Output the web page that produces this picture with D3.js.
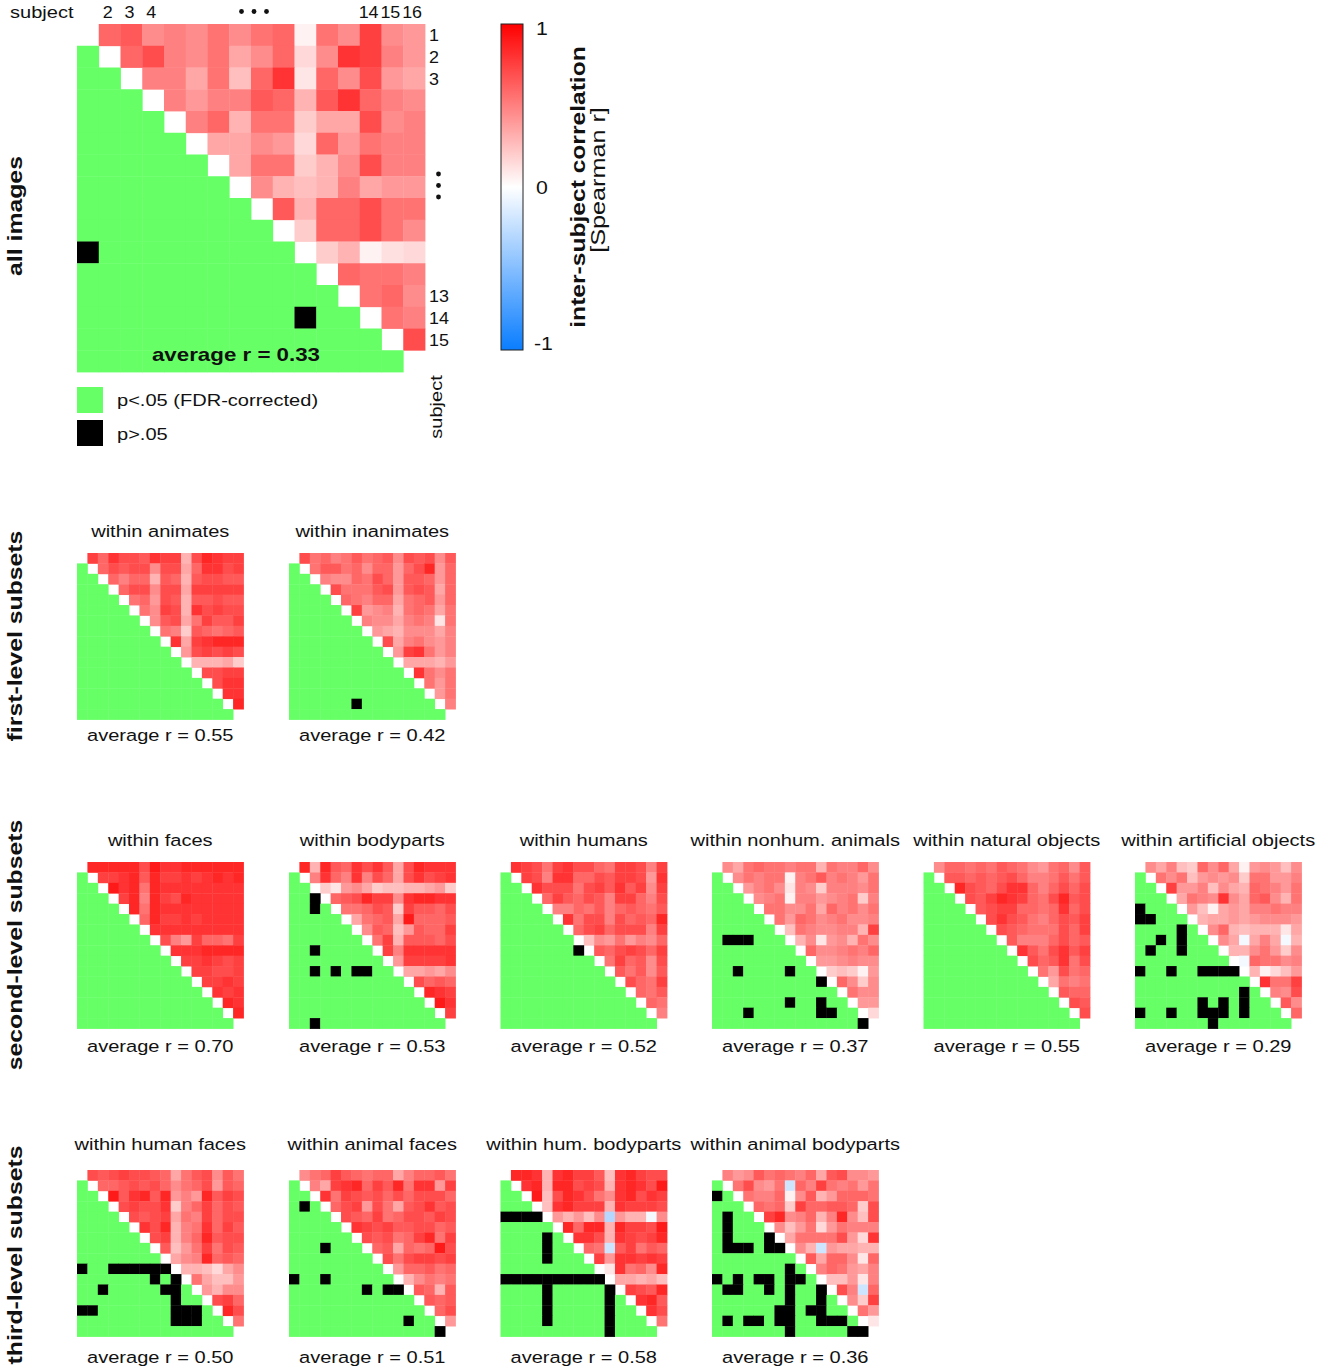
<!DOCTYPE html>
<html>
<head>
<meta charset="utf-8">
<script src="https://cdn.jsdelivr.net/npm/d3@7"></script>
<style>
  html, body { margin: 0; padding: 0; background: #fff; }
  svg { display: block; font-family: "Liberation Sans", Arial, Helvetica, sans-serif; }
</style>
</head>
<body>
<svg id="chart" width="1323" height="1371"></svg>
<script>
// ---------------- DATA ----------------
const subjects = d3.range(1, 17);
const colTickLabels = ["2", "3", "4", "14", "15", "16"];
const rowTickLabels = ["1", "2", "3", "13", "14", "15"];
const colorTickLabels = ["1", "0", "-1"];
const levelLabels = ["all images", "first-level subsets", "second-level subsets", "third-level subsets"];
const legendLabels = ["p<.05 (FDR-corrected)", "p>.05"];

// upper triangle rows: row i holds r for columns i+1..16
const corrAll = [
  [0.6,0.65,0.45,0.5,0.45,0.55,0.45,0.55,0.6,0.05,0.55,0.45,0.75,0.45,0.4],
  [0.6,0.7,0.5,0.45,0.55,0.35,0.45,0.6,0.15,0.45,0.8,0.75,0.5,0.4],
  [0.5,0.5,0.35,0.55,0.25,0.6,0.8,0.1,0.6,0.45,0.7,0.4,0.35],
  [0.5,0.4,0.5,0.5,0.65,0.6,0.3,0.65,0.8,0.6,0.5,0.45],
  [0.5,0.6,0.3,0.55,0.55,0.2,0.35,0.35,0.7,0.45,0.5],
  [0.35,0.35,0.45,0.4,0.15,0.6,0.4,0.55,0.5,0.5],
  [0.35,0.55,0.55,0.2,0.3,0.45,0.7,0.5,0.5],
  [0.45,0.3,0.25,0.3,0.5,0.35,0.4,0.4],
  [0.65,0.3,0.6,0.6,0.7,0.55,0.55],
  [0.2,0.6,0.6,0.7,0.55,0.45],
  [0.2,0.3,0.05,0.12,0.15],
  [0.6,0.55,0.55,0.5],
  [0.55,0.6,0.45],
  [0.55,0.5],
  [0.7]
];
const nsAll = [[11,1],[14,11]];

const corrAnimates = [
  [0.75,0.6,0.8,0.7,0.7,0.65,0.8,0.75,0.75,0.3,0.7,0.85,0.8,0.75,0.75],
  [0.6,0.7,0.65,0.7,0.7,0.45,0.7,0.7,0.35,0.6,0.8,0.8,0.7,0.75],
  [0.6,0.5,0.6,0.6,0.3,0.65,0.6,0.3,0.65,0.7,0.7,0.65,0.65],
  [0.6,0.7,0.7,0.45,0.7,0.7,0.35,0.75,0.75,0.75,0.75,0.75],
  [0.55,0.6,0.4,0.7,0.65,0.3,0.65,0.65,0.7,0.65,0.65],
  [0.55,0.45,0.75,0.7,0.3,0.8,0.7,0.75,0.7,0.7],
  [0.45,0.65,0.7,0.35,0.55,0.75,0.65,0.65,0.75],
  [0.55,0.5,0.2,0.65,0.6,0.55,0.6,0.65],
  [0.8,0.35,0.75,0.8,0.85,0.85,0.85],
  [0.4,0.7,0.75,0.7,0.75,0.7],
  [0.3,0.3,0.3,0.35,0.2],
  [0.7,0.7,0.75,0.75],
  [0.7,0.8,0.8],
  [0.8,0.8],
  [0.85]
];
const nsAnimates = [];

const corrInanimates = [
  [0.7,0.55,0.6,0.5,0.55,0.65,0.55,0.6,0.65,0.45,0.7,0.65,0.7,0.45,0.65],
  [0.55,0.65,0.65,0.55,0.6,0.45,0.6,0.6,0.4,0.6,0.7,0.85,0.4,0.6],
  [0.5,0.45,0.45,0.6,0.55,0.7,0.6,0.4,0.65,0.65,0.6,0.4,0.6],
  [0.7,0.55,0.55,0.55,0.65,0.7,0.4,0.65,0.7,0.65,0.35,0.6],
  [0.6,0.55,0.5,0.6,0.6,0.35,0.55,0.6,0.65,0.4,0.6],
  [0.75,0.4,0.45,0.5,0.3,0.55,0.6,0.55,0.35,0.55],
  [0.5,0.45,0.45,0.35,0.5,0.55,0.5,0.1,0.55],
  [0.4,0.35,0.3,0.45,0.45,0.45,0.35,0.5],
  [0.7,0.35,0.5,0.55,0.45,0.4,0.5],
  [0.4,0.75,0.8,0.55,0.4,0.5],
  [0.35,0.35,0.35,0.3,0.4],
  [0.8,0.55,0.45,0.55],
  [0.55,0.4,0.55],
  [0.4,0.55],
  [0.5]
];
const nsInanimates = [[15,7]];

const corrFaces = [
  [0.85,0.85,0.85,0.85,0.85,0.7,0.9,0.8,0.8,0.85,0.85,0.85,0.85,0.85,0.85],
  [0.75,0.75,0.8,0.85,0.65,0.85,0.75,0.75,0.8,0.75,0.8,0.85,0.8,0.85],
  [0.9,0.8,0.85,0.55,0.85,0.8,0.8,0.8,0.8,0.8,0.8,0.8,0.8],
  [0.75,0.85,0.5,0.85,0.75,0.7,0.85,0.8,0.8,0.8,0.8,0.8],
  [0.85,0.55,0.85,0.8,0.8,0.8,0.8,0.8,0.8,0.8,0.8],
  [0.6,0.85,0.75,0.75,0.8,0.75,0.8,0.8,0.8,0.8],
  [0.8,0.8,0.8,0.8,0.8,0.8,0.8,0.8,0.8],
  [0.7,0.5,0.4,0.75,0.6,0.6,0.55,0.75],
  [0.8,0.8,0.8,0.85,0.85,0.85,0.85],
  [0.75,0.75,0.8,0.75,0.7,0.75],
  [0.75,0.75,0.7,0.7,0.75],
  [0.75,0.75,0.8,0.75],
  [0.8,0.75,0.8],
  [0.85,0.8],
  [0.85]
];
const nsFaces = [];

const corrBodyparts = [
  [0.85,0.3,0.85,0.65,0.6,0.8,0.7,0.8,0.65,0.35,0.7,0.85,0.8,0.8,0.8],
  [0.5,0.8,0.6,0.5,0.8,0.5,0.7,0.6,0.35,0.7,0.8,0.7,0.75,0.8],
  [0.2,0.1,0.4,0.45,0.35,0.2,0.25,0.25,0.3,0.3,0.35,0.4,0.2],
  [0.6,0.65,0.7,0.85,0.75,0.75,0.45,0.8,0.85,0.85,0.8,0.8],
  [0.55,0.55,0.6,0.7,0.65,0.2,0.75,0.65,0.65,0.6,0.7],
  [0.35,0.55,0.6,0.65,0.35,0.9,0.6,0.6,0.6,0.65],
  [0.45,0.65,0.6,0.25,0.4,0.65,0.6,0.6,0.75],
  [0.55,0.75,0.3,0.65,0.65,0.65,0.6,0.7],
  [0.75,0.5,0.8,0.8,0.8,0.8,0.8],
  [0.4,0.75,0.75,0.75,0.75,0.8],
  [0.35,0.35,0.4,0.35,0.45],
  [0.7,0.6,0.65,0.6],
  [0.85,0.8,0.75],
  [0.9,0.8],
  [0.75]
];
const nsBodyparts = [[4,3],[5,3],[9,3],[11,3],[11,5],[11,7],[11,8],[16,3]];

const corrHumans = [
  [0.8,0.75,0.7,0.55,0.75,0.8,0.7,0.7,0.6,0.55,0.75,0.75,0.7,0.5,0.75],
  [0.75,0.7,0.5,0.8,0.8,0.6,0.6,0.7,0.65,0.75,0.75,0.7,0.4,0.8],
  [0.8,0.7,0.7,0.7,0.55,0.7,0.75,0.65,0.8,0.65,0.75,0.45,0.75],
  [0.6,0.75,0.65,0.6,0.7,0.65,0.5,0.75,0.75,0.6,0.5,0.7],
  [0.5,0.5,0.6,0.55,0.65,0.5,0.6,0.65,0.6,0.55,0.65],
  [0.8,0.55,0.7,0.7,0.5,0.7,0.6,0.65,0.6,0.85],
  [0.6,0.7,0.75,0.6,0.7,0.7,0.7,0.5,0.75],
  [0.25,0.45,0.4,0.55,0.4,0.5,0.45,0.6],
  [0.65,0.6,0.7,0.75,0.7,0.6,0.75],
  [0.55,0.75,0.6,0.65,0.45,0.7],
  [0.65,0.55,0.65,0.45,0.65],
  [0.7,0.6,0.55,0.75],
  [0.6,0.55,0.65],
  [0.6,0.55],
  [0.5]
];
const nsHumans = [[9,8]];

const corrNonhum = [
  [0.45,0.35,0.55,0.6,0.55,0.55,0.5,0.55,0.55,0.3,0.55,0.5,0.5,0.6,0.45],
  [0.45,0.55,0.5,0.55,0.55,0.05,0.5,0.55,0.65,0.5,0.55,0.5,0.4,0.55],
  [0.4,0.5,0.55,0.45,0.1,0.5,0.45,0.2,0.5,0.5,0.5,0.45,0.55],
  [0.45,0.5,0.55,0.05,0.5,0.5,0.4,0.45,0.5,0.55,0.2,0.5],
  [0.55,0.55,0.45,0.45,0.55,0.35,0.6,0.5,0.55,0.45,0.55],
  [0.55,0.4,0.6,0.55,0.45,0.5,0.55,0.45,0.45,0.5],
  [0.25,0.55,0.5,0.45,0.45,0.5,0.5,0.3,0.75],
  [0.3,0.45,0.1,0.4,0.45,0.3,0.55,0.45],
  [0.6,0.45,0.45,0.5,0.55,0.5,0.6],
  [0.4,0.4,0.45,0.5,0.45,0.45],
  [0.2,0.25,0.2,0.05,0.4],
  [0.6,0.45,0.2,0.45],
  [0.55,0.45,0.45],
  [0.4,0.4],
  [0.15]
];
const nsNonhum = [[8,2],[8,3],[8,4],[11,3],[11,8],[12,11],[14,8],[14,11],[15,4],[15,11],[15,12],[16,15]];

const corrNatural = [
  [0.45,0.6,0.6,0.55,0.6,0.55,0.65,0.6,0.55,0.45,0.4,0.55,0.6,0.45,0.65],
  [0.65,0.65,0.6,0.65,0.6,0.65,0.7,0.6,0.5,0.5,0.55,0.65,0.55,0.65],
  [0.85,0.7,0.65,0.6,0.7,0.8,0.8,0.6,0.5,0.6,0.7,0.6,0.7],
  [0.7,0.65,0.75,0.85,0.8,0.75,0.6,0.55,0.7,0.85,0.65,0.7],
  [0.65,0.7,0.75,0.75,0.6,0.6,0.55,0.6,0.8,0.6,0.7],
  [0.7,0.8,0.7,0.65,0.55,0.5,0.6,0.7,0.65,0.75],
  [0.7,0.65,0.6,0.55,0.55,0.55,0.7,0.6,0.75],
  [0.65,0.5,0.5,0.5,0.6,0.7,0.6,0.65],
  [0.8,0.65,0.55,0.7,0.8,0.65,0.75],
  [0.7,0.6,0.65,0.8,0.55,0.7],
  [0.55,0.4,0.7,0.55,0.6],
  [0.35,0.55,0.5,0.55],
  [0.65,0.6,0.6],
  [0.7,0.65],
  [0.7]
];
const nsNatural = [];

const corrArtificial = [
  [0.45,0.35,0.5,0.25,0.2,0.6,0.45,0.6,0.35,0.05,0.4,0.45,0.4,0.25,0.45],
  [0.55,0.45,0.55,0.25,0.4,0.45,0.4,0.45,0.2,0.55,0.55,0.4,0.4,0.5],
  [0.75,0.4,0.4,0.5,0.25,0.45,0.35,0.3,0.6,0.55,0.5,0.4,0.55],
  [0.35,0.55,0.5,0.45,0.8,0.45,0.35,0.6,0.65,0.45,0.3,0.55],
  [0.4,0.25,0.05,0.35,0.4,0.35,0.5,0.5,0.55,0.5,0.5],
  [0.3,0.35,0.35,0.4,0.35,0.4,0.45,0.45,0.45,0.4],
  [0.45,0.6,0.3,0.25,0.3,0.3,0.3,0.1,0.35],
  [0.45,0.35,-0.05,0.35,0.5,0.35,-0.05,0.3],
  [0.3,0.3,0.45,0.55,0.4,0.2,0.45],
  [-0.05,0.6,0.55,0.55,0.45,0.5],
  [0.3,0.05,0.15,0.25,0.4],
  [0.8,0.55,0.55,0.75],
  [0.5,0.45,0.7],
  [0.65,0.45],
  [0.6]
];
const nsArtificial = [[5,1],[6,1],[6,2],[7,5],[8,3],[8,5],[9,2],[9,5],[11,1],[11,4],[11,7],[11,8],[11,9],[11,10],[13,11],[14,7],[14,9],[14,11],[15,1],[15,4],[15,7],[15,8],[15,9],[15,11],[16,8]];

const corrHumFaces = [
  [0.7,0.65,0.7,0.75,0.7,0.7,0.65,0.6,0.35,0.55,0.65,0.7,0.45,0.65,0.55],
  [0.6,0.6,0.65,0.7,0.65,0.7,0.6,0.45,0.55,0.6,0.7,0.4,0.65,0.6],
  [0.9,0.65,0.8,0.85,0.65,0.85,0.4,0.5,0.4,0.85,0.65,0.75,0.7],
  [0.7,0.75,0.7,0.7,0.8,0.2,0.5,0.6,0.75,0.6,0.7,0.65],
  [0.7,0.65,0.7,0.75,0.35,0.55,0.5,0.75,0.6,0.7,0.7],
  [0.8,0.7,0.85,0.3,0.5,0.55,0.8,0.6,0.75,0.65],
  [0.7,0.75,0.3,0.5,0.6,0.85,0.65,0.7,0.7],
  [0.65,0.25,0.4,0.55,0.75,0.55,0.7,0.65],
  [0.35,0.45,0.5,0.85,0.6,0.65,0.6],
  [0.3,0.3,0.25,0.15,0.35,0.45],
  [0.55,0.35,0.25,0.25,0.4],
  [0.4,0.3,0.45,0.45],
  [0.7,0.75,0.6],
  [0.85,0.7],
  [0.55]
];
const nsHumFaces = [[10,1],[10,4],[10,5],[10,6],[10,7],[10,8],[10,9],[11,8],[11,10],[12,3],[12,9],[12,10],[13,10],[14,1],[14,2],[14,10],[14,11],[14,12],[15,10],[15,11],[15,12]];

const corrAnimalFaces = [
  [0.45,0.55,0.6,0.75,0.65,0.6,0.55,0.6,0.6,0.35,0.5,0.6,0.6,0.65,0.55],
  [0.5,0.35,0.75,0.8,0.85,0.6,0.75,0.65,0.85,0.55,0.8,0.8,0.4,0.75],
  [0.8,0.55,0.75,0.7,0.65,0.7,0.6,0.7,0.6,0.7,0.7,0.7,0.6],
  [0.6,0.7,0.75,0.4,0.7,0.55,0.35,0.65,0.7,0.8,0.65,0.7],
  [0.7,0.65,0.6,0.75,0.55,0.6,0.7,0.7,0.65,0.75,0.7],
  [0.8,0.75,0.7,0.75,0.65,0.65,0.7,0.7,0.6,0.65],
  [0.7,0.65,0.7,0.55,0.6,0.75,0.85,0.55,0.75],
  [0.6,0.65,0.35,0.6,0.55,0.6,0.9,0.7],
  [0.7,0.55,0.7,0.75,0.75,0.7,0.75],
  [0.4,0.6,0.6,0.65,0.55,0.6],
  [0.3,0.45,0.55,0.5,0.55],
  [0.65,0.6,0.3,0.65],
  [0.65,0.6,0.65],
  [0.6,0.7],
  [0.4]
];
const nsAnimalFaces = [[4,2],[8,4],[11,1],[11,4],[12,8],[12,10],[12,11],[15,12],[16,15]];

const corrHumBody = [
  [0.85,0.85,0.8,0.3,0.8,0.85,0.75,0.75,0.65,0.25,0.8,0.85,0.75,0.7,0.7],
  [0.8,0.85,0.3,0.85,0.85,0.7,0.75,0.7,0.3,0.8,0.85,0.8,0.7,0.9],
  [0.9,0.25,0.7,0.85,0.8,0.7,0.55,0.45,0.8,0.85,0.7,0.8,0.75],
  [0.25,0.8,0.85,0.75,0.75,0.75,0.3,0.8,0.75,0.75,0.75,0.7],
  [0.4,0.3,0.4,0.25,0.45,-0.3,0.4,0.3,0.3,-0.05,0.45],
  [0.85,0.6,0.85,0.85,0.3,0.85,0.75,0.75,0.7,0.9],
  [0.8,0.8,0.7,0.3,0.8,0.75,0.7,0.75,0.85],
  [0.6,0.55,-0.2,0.65,0.75,0.55,0.65,0.6],
  [0.75,0.4,0.8,0.8,0.75,0.8,0.75],
  [0.1,0.8,0.55,0.6,0.45,0.85],
  [0.35,0.35,0.3,0.35,0.25],
  [0.75,0.7,0.65,0.85],
  [0.8,0.85,0.65],
  [0.8,0.7],
  [0.55]
];
const nsHumBody = [[5,1],[5,2],[5,3],[5,4],[7,5],[8,5],[9,5],[11,1],[11,2],[11,3],[11,4],[11,5],[11,6],[11,7],[11,8],[11,9],[11,10],[12,5],[13,5],[14,5],[15,5],[12,11],[13,11],[14,11],[15,11],[16,11]];

const corrAnimalBody = [
  [0.5,0.4,0.45,0.65,0.55,0.6,0.55,0.5,0.6,0.35,0.65,0.7,0.45,0.45,0.4],
  [0.55,0.7,0.45,0.4,0.55,-0.2,0.6,0.5,0.75,0.55,0.5,0.55,0.4,0.55],
  [0.55,0.5,0.5,0.6,0.05,0.45,0.65,0.3,0.4,0.6,0.6,0.6,0.55],
  [0.6,0.55,0.6,0.2,0.75,0.6,0.6,0.65,0.65,0.6,0.2,0.7],
  [0.75,0.85,0.45,0.5,0.6,0.3,0.5,0.85,0.45,0.25,0.7],
  [0.45,0.25,0.4,0.55,0.15,0.4,0.55,0.5,0.5,0.5],
  [0.35,0.55,0.55,0.55,0.55,0.7,0.4,0.15,0.8],
  [0.45,0.3,-0.2,0.4,0.35,0.35,0.3,0.3],
  [0.65,0.35,0.6,0.6,0.45,0.1,0.6],
  [0.5,0.6,0.55,0.4,0.35,0.5],
  [0.25,0.25,0.4,0.1,0.5],
  [0.7,0.5,-0.2,0.6],
  [0.45,0.2,0.75],
  [0.55,0.4],
  [0.1]
];
const nsAnimalBody = [[3,1],[5,2],[6,2],[7,2],[8,2],[8,3],[8,4],[7,6],[8,6],[8,7],[10,8],[11,8],[12,8],[13,8],[14,8],[15,8],[16,8],[11,9],[11,1],[11,3],[11,5],[11,6],[12,2],[12,3],[12,6],[14,7],[15,7],[12,11],[13,11],[14,10],[14,11],[15,11],[15,12],[15,13],[15,2],[15,4],[15,5],[16,14],[16,15]];

const panelTitles = [
  ["within animates", "within inanimates"],
  ["within faces", "within bodyparts", "within humans", "within nonhum. animals", "within natural objects", "within artificial objects"],
  ["within human faces", "within animal faces", "within hum. bodyparts", "within animal bodyparts"]
];
const panelAverages = [
  ["0.55", "0.42"],
  ["0.70", "0.53", "0.52", "0.37", "0.55", "0.29"],
  ["0.50", "0.51", "0.58", "0.36"]
];
const panelCorr = [
  [corrAnimates, corrInanimates],
  [corrFaces, corrBodyparts, corrHumans, corrNonhum, corrNatural, corrArtificial],
  [corrHumFaces, corrAnimalFaces, corrHumBody, corrAnimalBody]
];
const panelNs = [
  [nsAnimates, nsInanimates],
  [nsFaces, nsBodyparts, nsHumans, nsNonhum, nsNatural, nsArtificial],
  [nsHumFaces, nsAnimalFaces, nsHumBody, nsAnimalBody]
];
const averageAll = "0.33";

// ---------------- DRAWING ----------------
const svg = d3.select("#chart");
const GREEN = "#66ff66";
const color = d3.scaleLinear().domain([-1, 0, 1]).range(["#0a7dff", "#ffffff", "#ff0000"]);

function label(parent, x, y, str, o = {}) {
  const g = parent.append("g")
    .attr("transform", `translate(${x},${y}) rotate(${o.rot || 0}) scale(${o.sx || 1},1)`);
  g.append("text")
    .attr("text-anchor", o.anchor || "start")
    .attr("font-size", o.size || 17)
    .attr("font-weight", o.weight || "normal")
    .attr("fill", "#111")
    .text(str);
  return g;
}

function drawMatrix(x0, y0, size, corr, ns) {
  const x = d3.scaleBand().domain(subjects).range([x0, x0 + size]);
  const y = d3.scaleBand().domain(subjects).range([y0, y0 + size]);
  const nsSet = new Set(ns.map(d => d[0] + "_" + d[1]));
  const cells = [];
  subjects.forEach(i => subjects.forEach(j => {
    if (i < j) cells.push({ i, j, fill: color(corr[i - 1][j - i - 1]) });
    else if (i > j) cells.push({ i, j, fill: nsSet.has(i + "_" + j) ? "#000" : GREEN });
  }));
  const g = svg.append("g");
  g.selectAll("rect").data(cells).join("rect")
    .attr("x", d => x(d.j))
    .attr("y", d => y(d.i))
    .attr("width", x.bandwidth() + 0.4)
    .attr("height", y.bandwidth() + 0.4)
    .attr("fill", d => d.fill);
  return { x, y };
}

// ---- main matrix ----
const main = drawMatrix(77, 24, 348, corrAll, nsAll);
label(svg, 10, 18, "subject", { size: 17, sx: 1.18 });
colTickLabels.forEach(t => {
  label(svg, main.x(+t) + main.x.bandwidth() / 2 - 2, 18, t, { size: 16, sx: 1.12, anchor: "middle" });
});
[241.5, 254, 266.5].forEach(cx => svg.append("circle").attr("cx", cx).attr("cy", 11.5).attr("r", 2.4).attr("fill", "#111"));
rowTickLabels.forEach(t => {
  label(svg, 429, main.y(+t) + main.y.bandwidth() / 2 + 6.5, t, { size: 16, sx: 1.12 });
});
[174, 185.5, 197].forEach(cy => svg.append("circle").attr("cx", 438.5).attr("cy", cy).attr("r", 2.4).attr("fill", "#111"));
label(svg, 442, 407, "subject", { size: 17, sx: 1.18, rot: -90, anchor: "middle" });
label(svg, 236, 361, "average r = " + averageAll, { size: 18, weight: "bold", sx: 1.24, anchor: "middle" });

// legend
svg.append("rect").attr("x", 77).attr("y", 387).attr("width", 26).attr("height", 26).attr("fill", GREEN);
svg.append("rect").attr("x", 77).attr("y", 420).attr("width", 26).attr("height", 26).attr("fill", "#000");
label(svg, 117, 406, legendLabels[0], { size: 17, sx: 1.18 });
label(svg, 117, 440, legendLabels[1], { size: 17, sx: 1.18 });

// colorbar
const defs = svg.append("defs");
const grad = defs.append("linearGradient").attr("id", "cbar").attr("x1", 0).attr("y1", 0).attr("x2", 0).attr("y2", 1);
d3.range(0, 1.0001, 0.05).forEach(t => {
  grad.append("stop").attr("offset", t).attr("stop-color", color(1 - 2 * t));
});
const cbY = d3.scaleLinear().domain([1, -1]).range([24, 350]);
svg.append("rect").attr("x", 501).attr("y", cbY(1)).attr("width", 22).attr("height", cbY(-1) - cbY(1))
  .attr("fill", "url(#cbar)").attr("stroke", "#222").attr("stroke-width", 1);
colorTickLabels.forEach(t => {
  const v = +t;
  const off = v === 1 ? 11 : (v === 0 ? 7 : 0);
  label(svg, v < 0 ? 534 : 536, cbY(v) + off, t, { size: 19, sx: 1.12 });
});
label(svg, 585, 187, "inter-subject correlation", { size: 20, weight: "bold", sx: 1.23, rot: -90, anchor: "middle" });
label(svg, 605, 180, "[Spearman r]", { size: 20, sx: 1.26, rot: -90, anchor: "middle" });

// level labels
const levelCenters = [216, 636, 945, 1255];
levelLabels.forEach((t, k) => label(svg, 22, levelCenters[k], t, { size: 20, weight: "bold", sx: 1.24, rot: -90, anchor: "middle" }));

// subset panels
const panelSize = 166.5;
const panelX = [77, 289, 500.5, 712, 923.5, 1135];
const panelY = [553, 862, 1170];
const titleBase = [537, 846, 1150];
const avgBase = [741, 1052, 1363];
panelCorr.forEach((row, r) => {
  row.forEach((corr, c) => {
    const x0 = panelX[c];
    drawMatrix(x0, panelY[r], panelSize, corr, panelNs[r][c]);
    label(svg, x0 + panelSize / 2, titleBase[r], panelTitles[r][c], { size: 17, sx: 1.18, anchor: "middle" });
    label(svg, x0 + panelSize / 2, avgBase[r], "average r = " + panelAverages[r][c], { size: 17, sx: 1.18, anchor: "middle" });
  });
});
</script>
</body>
</html>
